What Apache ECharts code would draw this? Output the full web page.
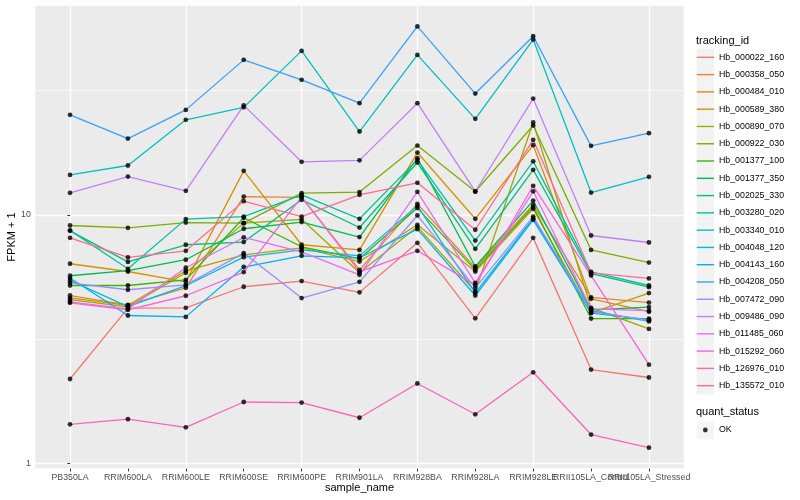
<!DOCTYPE html>
<html><head><meta charset="utf-8">
<script src="https://cdn.jsdelivr.net/npm/echarts@6/dist/echarts.min.js"></script>
<style>html,body{margin:0;padding:0;background:#fff}#c{width:800px;height:500px}</style>
</head><body><div id="c"></div>
<script>
const categories = ['PB350LA','RRIM600LA','RRIM600LE','RRIM600SE','RRIM600PE','RRIM901LA','RRIM928BA','RRIM928LA','RRIM928LE','RRII105LA_Control','RRII105LA_Stressed'];
const trackingIds = ['Hb_000022_160','Hb_000358_050','Hb_000484_010','Hb_000589_380','Hb_000890_070','Hb_000922_030','Hb_001377_100','Hb_001377_350','Hb_002025_330','Hb_003280_020','Hb_003340_010','Hb_004048_120','Hb_004143_160','Hb_004208_050','Hb_007472_090','Hb_009486_090','Hb_011485_060','Hb_015292_060','Hb_126976_010','Hb_135572_010'];
const hb_000022_160 = [2.19, 4.22, 4.23, 5.14, 5.42, 4.88, 7.72, 3.84, 8.08, 2.39, 2.22];
const hb_000358_050 = [4.74, 4.35, 5.09, 11.84, 11.76, 6.01, 11.07, 6.13, 10.97, 4.66, 4.44];
const hb_000484_010 = [6.36, 5.92, 5.38, 15.02, 7.58, 7.23, 17.79, 9.64, 19.05, 4.60, 4.08];
const hb_000589_380 = [4.64, 4.33, 5.96, 6.91, 7.37, 6.49, 9.12, 5.92, 10.57, 4.04, 4.85];
const hb_000890_070 = [4.56, 4.27, 5.85, 9.26, 9.59, 5.85, 8.95, 4.92, 23.49, 4.23, 3.48];
const hb_000922_030 = [9.06, 8.87, 9.31, 9.26, 12.22, 12.34, 18.98, 12.41, 22.84, 7.23, 6.43];
const hb_001377_100 = [5.20, 5.20, 5.48, 9.73, 7.44, 6.66, 10.64, 6.01, 10.77, 3.83, 3.83];
const hb_001377_350 = [5.69, 5.97, 6.60, 8.79, 9.35, 8.14, 16.89, 6.20, 11.41, 4.15, 4.26];
const hb_002025_330 = [8.62, 6.47, 7.58, 7.77, 11.49, 8.89, 16.22, 7.30, 15.16, 5.80, 5.12];
const hb_003280_020 = [8.66, 6.07, 9.61, 9.84, 12.03, 9.64, 16.63, 7.88, 16.40, 5.90, 5.20];
const hb_003340_010 = [14.47, 15.78, 24.08, 27.02, 45.56, 21.61, 43.91, 24.30, 50.58, 12.29, 14.21];
const hb_004048_120 = [5.45, 4.28, 5.19, 6.76, 7.23, 6.84, 10.87, 4.86, 9.68, 4.12, 3.73];
const hb_004143_160 = [5.57, 3.94, 3.89, 6.17, 6.84, 6.72, 8.76, 4.74, 9.55, 4.03, 3.79];
const hb_004208_050 = [25.21, 20.25, 26.40, 41.93, 34.85, 28.09, 57.15, 30.70, 52.20, 18.93, 21.29];
const hb_007472_090 = [5.33, 5.00, 5.23, 7.02, 4.63, 5.38, 9.94, 5.09, 9.84, 4.08, 3.77];
const hb_009486_090 = [12.26, 14.25, 12.48, 27.53, 16.33, 16.55, 28.09, 12.41, 29.32, 8.26, 7.74];
const hb_011485_060 = [4.47, 4.19, 6.13, 8.11, 7.10, 5.74, 12.37, 5.33, 12.43, 4.19, 4.12];
const hb_015292_060 = [4.43, 4.15, 4.73, 5.89, 11.81, 5.90, 7.17, 5.23, 13.08, 5.70, 2.50];
const hb_126976_010 = [1.44, 1.51, 1.40, 1.77, 1.76, 1.53, 2.10, 1.58, 2.33, 1.31, 1.16];
const hb_135572_010 = [8.08, 6.74, 7.17, 11.35, 9.84, 12.03, 13.45, 8.71, 20.01, 5.85, 5.55];
const seriesValues = [hb_000022_160, hb_000358_050, hb_000484_010, hb_000589_380, hb_000890_070, hb_000922_030, hb_001377_100, hb_001377_350, hb_002025_330, hb_003280_020, hb_003340_010, hb_004048_120, hb_004143_160, hb_004208_050, hb_007472_090, hb_009486_090, hb_011485_060, hb_015292_060, hb_126976_010, hb_135572_010];
const yTickValues = [1, 10];
const quantStatus = ['OK'];

const colors = ['#F8766D','#EA8331','#D89000','#C09B00','#A3A500','#7CAE00','#39B600','#00BB4E','#00BF7D','#00C1A3','#00BFC4','#00BAE0','#00B0F6','#35A2FF','#9590FF','#C77CFF','#E76BF3','#FA62DB','#FF62BC','#FF6C91'];
const FONT = "'Liberation Sans', Arial, Helvetica, sans-serif";
const catIdx = categories.map((_, i) => i);
const evenIdx = catIdx.filter(i => i % 2 === 0);
const oddIdx = catIdx.filter(i => i % 2 === 1);
const linePath = 'path://M0,0L0,0M0,46L100,46L100,54L0,54ZM100,100L100,100';
const dotPath = 'path://M0,0L0,0M36,50A14,14 0 1 1 64,50A14,14 0 1 1 36,50ZM100,100L100,100';

const chart = echarts.init(document.getElementById('c'), null, {renderer: 'canvas'});

const lineSeries = trackingIds.map((id, k) => ({
  name: id, type: 'line', xAxisIndex: 0, yAxisIndex: 0,
  data: seriesValues[k].map((v, i) => [i, v]),
  showSymbol: false, symbol: 'none', color: colors[k],
  lineStyle: {width: 1.3, color: colors[k]},
  silent: true, animation: false, z: 2
}));
const pointSeries = {
  name: quantStatus[0], type: 'scatter', xAxisIndex: 0, yAxisIndex: 0,
  data: seriesValues.flatMap(vals => vals.map((v, i) => [i, v])),
  symbol: 'circle', symbolSize: 4.8, itemStyle: {color: '#000000'},
  silent: true, animation: false, z: 3
};

const legendBase = {orient: 'vertical', itemGap: 0, padding: 0, selectedMode: false,
  itemWidth: 17.28, itemHeight: 17.28, textStyle: {fontSize: 8.8, color: '#000', fontFamily: FONT}};

function xAxisFor(idx, main) {
  return {
    type: 'value', min: -0.6, max: 10.6, position: 'bottom', offset: 0,
    axisLine: {show: false},
    axisTick: {show: true, customValues: idx, length: 2.75, lineStyle: {color: '#333333', width: 1}},
    axisLabel: {customValues: idx, formatter: v => categories[v], fontSize: 8.8, color: '#4D4D4D', margin: 4, hideOverlap: false, showMinLabel: true, showMaxLabel: true},
    splitLine: {show: main, customValues: catIdx, lineStyle: {color: '#FFFFFF', width: 1.3}},
    name: main ? 'sample_name' : '', nameLocation: 'middle', nameGap: 14, nameMoveOverlap: false,
    nameTextStyle: {fontSize: 11, color: '#000'}
  };
}

chart.setOption({
  animation: false,
  textStyle: {fontFamily: FONT},
  title: [
    {text: 'tracking_id', left: 696, top: 35, padding: 0, textStyle: {fontSize: 11, fontWeight: 'normal', color: '#000', fontFamily: FONT}},
    {text: 'quant_status', left: 696, top: 406, padding: 0, textStyle: {fontSize: 11, fontWeight: 'normal', color: '#000', fontFamily: FONT}}
  ],
  legend: [
    Object.assign({}, legendBase, {id: 'bg1', data: trackingIds, left: 696.7, top: 48.7, icon: 'rect', itemStyle: {color: '#F2F2F2', borderWidth: 0}, formatter: () => '', z: 4}),
    Object.assign({}, legendBase, {id: 'fg1', data: trackingIds, left: 696.7, top: 48.7, icon: linePath, itemStyle: {borderWidth: 0}, z: 5}),
    Object.assign({}, legendBase, {id: 'bg2', data: quantStatus, left: 696.7, top: 421.4, icon: 'rect', itemStyle: {color: '#F2F2F2', borderWidth: 0}, formatter: () => '', z: 4}),
    Object.assign({}, legendBase, {id: 'fg2', data: quantStatus, left: 696.7, top: 421.4, icon: dotPath, itemStyle: {color: '#000', borderWidth: 0}, z: 5})
  ],
  grid: {left: 35.3, right: 116.3, top: 5.4, bottom: 31.3, show: true, backgroundColor: '#EBEBEB', borderWidth: 0, containLabel: false, outerBoundsMode: 'none'},
  xAxis: [xAxisFor(evenIdx, true), xAxisFor(oddIdx, false)],
  yAxis: [
    {
      type: 'log', logBase: 10, min: 0.955, max: 69.4, position: 'left',
      axisLine: {show: false},
      axisTick: {show: true, customValues: yTickValues, length: 2.75, lineStyle: {color: '#333333', width: 1}},
      axisLabel: {customValues: yTickValues, fontSize: 8.8, color: '#4D4D4D', margin: 4.5, showMinLabel: true, showMaxLabel: true},
      splitLine: {show: true, lineStyle: {color: '#FFFFFF', width: 1.3}},
      name: 'FPKM + 1', nameLocation: 'middle', nameGap: 18, nameMoveOverlap: false,
      nameTextStyle: {fontSize: 11, color: '#000'}
    },
    {
      type: 'log', logBase: Math.sqrt(10), min: 0.955, max: 69.4, position: 'left',
      axisLine: {show: false}, axisTick: {show: false}, axisLabel: {show: false},
      splitLine: {show: true, lineStyle: {color: '#FFFFFF', width: 0.7}}
    }
  ],
  series: lineSeries.concat([pointSeries])
});
</script>
</body></html>
